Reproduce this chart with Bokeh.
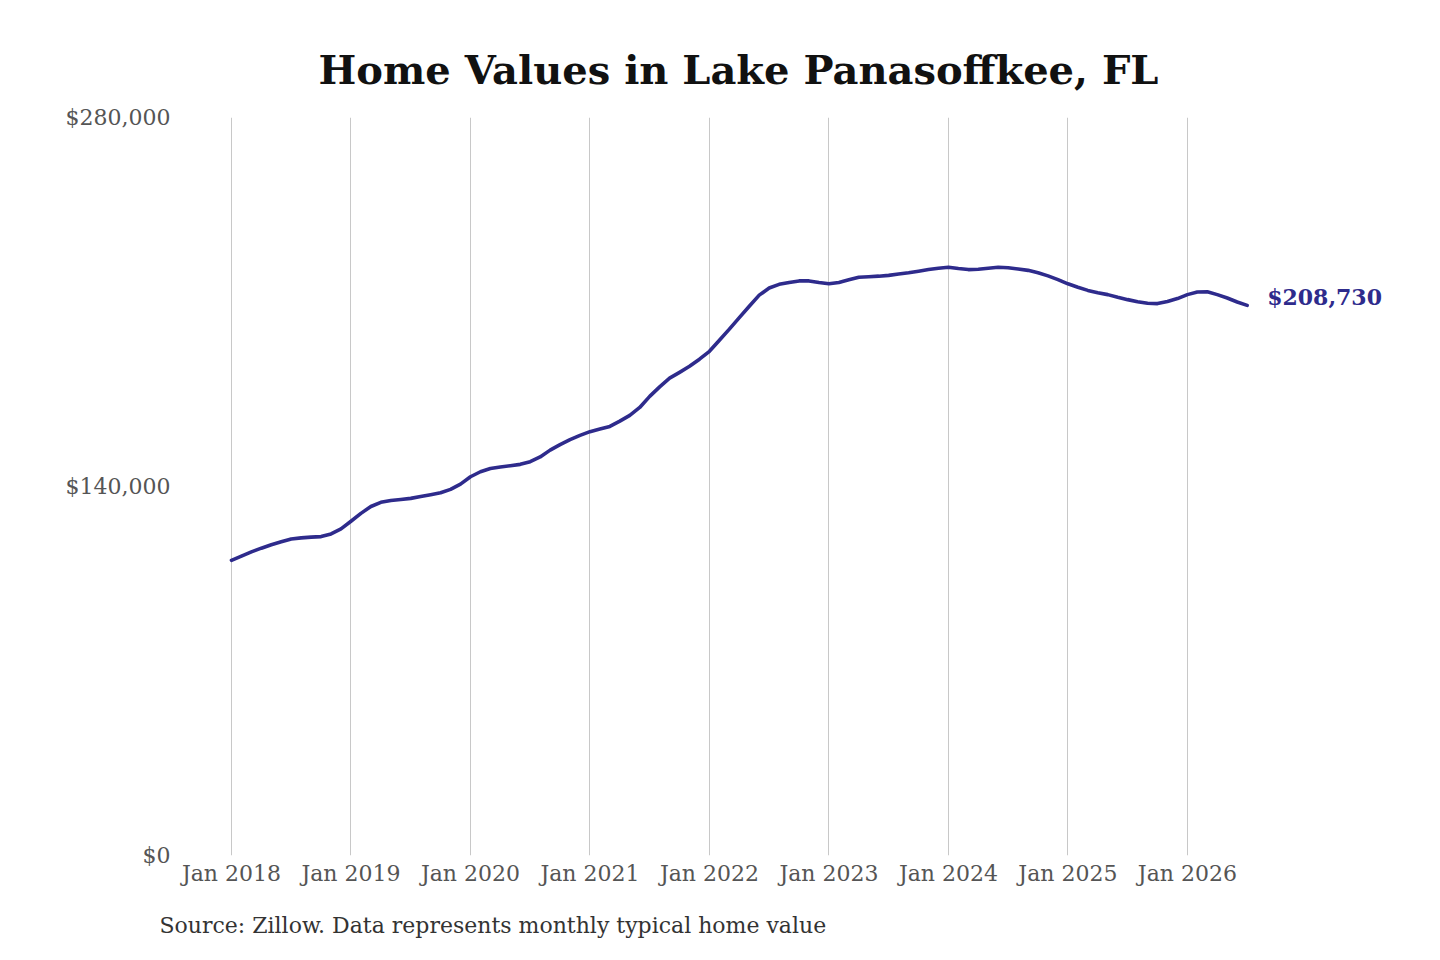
from bokeh.plotting import figure
from bokeh.models import FixedTicker, NumeralTickFormatter, Label, Range1d, Title
from bokeh.embed import file_html
from bokeh.resources import INLINE

# Monthly typical home value, Jan 2018 (index 0) .. Jul 2026 (index 102)
home_values = [
    112000, 113600, 115200, 116600, 117900, 119000, 120100, 120500, 120800, 121000, 122000, 123900,
    126800, 129800, 132400, 134000, 134700, 135100, 135500, 136200, 136900, 137600, 138900, 140900,
    143700, 145600, 146800, 147400, 147900, 148400, 149400, 151200, 153800, 155900, 157800, 159400,
    160800, 161800, 162800, 164800, 167000, 170000, 174200, 177800, 181100, 183300, 185600, 188300,
    191300, 195500, 199700, 204100, 208400, 212600, 215300, 216700, 217400, 218000, 218000, 217400,
    216900, 217400, 218400, 219400, 219600, 219800, 220100, 220600, 221100, 221700, 222300, 222800,
    223200, 222700, 222300, 222400, 222800, 223200, 223000, 222500, 222000, 221100, 219900, 218500,
    216900, 215600, 214400, 213500, 212800, 211800, 210900, 210100, 209500, 209400, 210200, 211300,
    212800, 213800, 213900, 212800, 211500, 210000, 208730,
]
month_index = list(range(len(home_values)))

tick_positions = [0, 12, 24, 36, 48, 60, 72, 84, 96]
tick_labels = ["Jan 2018", "Jan 2019", "Jan 2020", "Jan 2021", "Jan 2022",
               "Jan 2023", "Jan 2024", "Jan 2025", "Jan 2026"]
y_ticks = [0, 140000, 280000]

title_text = "Home Values in Lake Panasoffkee, FL"
source_text = "Source: Zillow. Data represents monthly typical home value"
end_label = "$208,730"

LINE = "#2e2b8c"
FONT = "DejaVu Serif"

p = figure(width=1424, height=960, output_backend="svg", toolbar_location=None,
           x_range=Range1d(-5.12, 117.4), y_range=Range1d(0, 280000),
           min_border_left=180, min_border_right=24, min_border_top=117, min_border_bottom=105)
p.outline_line_color = None
p.background_fill_color = "white"
p.border_fill_color = "white"

p.line(month_index, home_values, line_color=LINE, line_width=3.6, line_join="round", line_cap="round")

# x axis
p.xaxis.ticker = FixedTicker(ticks=tick_positions)
p.xaxis.major_label_overrides = {t: l for t, l in zip(tick_positions, tick_labels)}
p.xaxis.axis_line_color = None
p.xaxis.major_tick_line_color = None
p.xaxis.minor_tick_line_color = None
p.xaxis.major_label_standoff = -1
p.xaxis.major_label_text_font = FONT
p.xaxis.major_label_text_font_size = "22px"
p.xaxis.major_label_text_color = "#555555"

# y axis
p.yaxis.ticker = FixedTicker(ticks=y_ticks)
p.yaxis.formatter = NumeralTickFormatter(format="$0,0")
p.yaxis.axis_line_color = None
p.yaxis.major_tick_line_color = None
p.yaxis.minor_tick_line_color = None
p.yaxis.major_label_standoff = 4
p.yaxis.major_label_text_font = FONT
p.yaxis.major_label_text_font_size = "22px"
p.yaxis.major_label_text_color = "#555555"

p.xgrid.ticker = FixedTicker(ticks=tick_positions)
p.xgrid.grid_line_color = "#c8c8c8"
p.xgrid.grid_line_width = 1
p.ygrid.grid_line_color = None

# title and source note
p.add_layout(Title(text=title_text, align="left", offset=138, standoff=50,
                   text_font=FONT, text_font_style="bold", text_font_size="40px",
                   text_color="#111111"), "above")
p.add_layout(Title(text=source_text, align="left", offset=-21, standoff=45,
                   text_font=FONT, text_font_style="normal", text_font_size="22px",
                   text_color="#333333"), "below")
p.add_layout(Label(x=month_index[-1], y=home_values[-1], text=end_label, x_offset=20, y_offset=8,
                   text_font=FONT, text_font_style="bold", text_font_size="22px",
                   text_color=LINE, text_align="left", text_baseline="middle"))

open("out.html", "w").write(file_html(p, INLINE))
